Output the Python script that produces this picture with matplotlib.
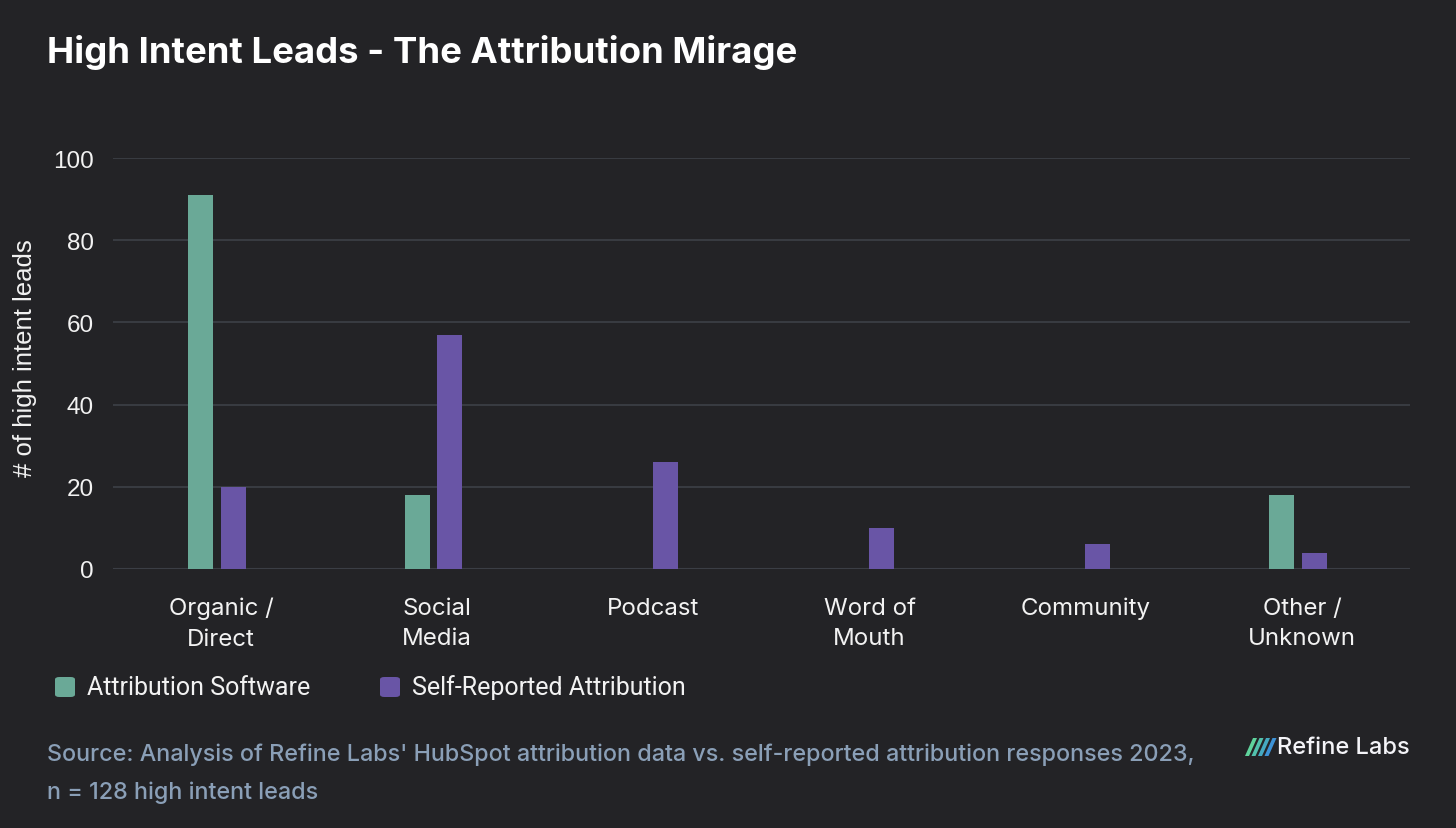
import matplotlib
matplotlib.use("Agg")
import matplotlib.pyplot as plt
import numpy as np
from matplotlib.patches import FancyBboxPatch, Polygon

categories = ["Organic /\nDirect", "Social\nMedia", "Podcast", "Word of\nMouth", "Community", "Other /\nUnknown"]
attribution_software = [91, 18, 0, 0, 0, 18]
self_reported = [20, 57, 26, 10, 6, 4]
series_names = ["Attribution Software", "Self-Reported Attribution"]
yticks = [0, 20, 40, 60, 80, 100]

BG = "#232326"
GREEN = "#6aa997"
PURPLE = "#6955a6"
GRID = "#3b3e45"
TEXT = "#f2f2f2"
SOURCE = "#8a9fb7"

W, H = 1456, 829
fig = plt.figure(figsize=(W / 100, H / 100), dpi=100, facecolor=BG)
ax = fig.add_axes([113 / W, 1 - 570 / H, (1410 - 113) / W, (570 - 159) / H], facecolor=BG)

x = np.arange(len(categories))
bw = 0.1156
ax.bar(x - 0.0934, attribution_software, width=bw, color=GREEN, zorder=3)
ax.bar(x + 0.0564, self_reported, width=bw, color=PURPLE, zorder=3)

ax.set_xlim(-0.5, len(categories) - 0.5)
ax.set_ylim(0, 100)
ax.set_yticks(yticks)
ax.yaxis.grid(True, color=GRID, linewidth=1.3, zorder=0)
ax.set_axisbelow(True)
for s in ax.spines.values():
    s.set_visible(False)
ax.axhline(0, color=GRID, linewidth=1.5, zorder=2)
ax.tick_params(axis="both", length=0, colors=TEXT)
ax.tick_params(axis="y", pad=14)
ax.tick_params(axis="x", pad=20)
ax.set_xticks(x)
ax.set_xticklabels(categories, fontsize=17.3, color=TEXT, family="Inter", linespacing=1.5, va="top")
for lab in ax.get_yticklabels():
    lab.set_fontsize(17.5)
    lab.set_family("Liberation Sans")
    lab.set_color(TEXT)
ax.set_ylabel("# of high intent leads", fontsize=18.5, color=TEXT, family="Liberation Sans")
ax.yaxis.set_label_coords(-(113 - 37) / (1410 - 113), (570 - 358) / 411)

# Title
fig.text(47 / W, 1 - 52 / H, "High Intent Leads - The Attribution Mirage", fontsize=26.3,
         fontweight="bold", color="white", family="Inter", va="center", ha="left")

# Legend
for i, (name, col, xs) in enumerate(zip(series_names, [GREEN, PURPLE], [55, 380])):
    p = FancyBboxPatch((xs / W, 1 - 698 / H), 20 / W, 20 / H,
                       boxstyle="round,pad=0,rounding_size=0.003", transform=fig.transFigure,
                       facecolor=col, edgecolor="none")
    fig.patches.append(p)
    fig.text((xs + 32) / W, 1 - 688 / H, name, fontsize=18, color=TEXT, family="Roboto",
             va="center", ha="left")

# Source
fig.text(47 / W, 1 - 755 / H, "Source: Analysis of Refine Labs' HubSpot attribution data vs. self-reported attribution responses 2023,",
         fontsize=16.8, color=SOURCE, family="Inter", fontweight="medium", va="center", ha="left")
fig.text(47 / W, 1 - 793 / H, "n = 128 high intent leads",
         fontsize=16.8, color=SOURCE, family="Inter", fontweight="medium", va="center", ha="left")

# Logo
stripe_cols = ["#5fd39c", "#52c1ad", "#45a9c2", "#3d92d6"]
for k, c in enumerate(stripe_cols):
    x0 = 1244 + k * 6.5
    pts = [(x0 + 9, 739), (x0 + 13, 739), (x0 + 5, 757), (x0 + 1, 757)]
    poly = Polygon([(px / W, 1 - py / H) for px, py in pts], closed=True,
                   transform=fig.transFigure, facecolor=c, edgecolor="none")
    fig.patches.append(poly)
fig.text(1410 / W, 1 - 748 / H, "Refine Labs", fontsize=17, color="#f4f4f8", family="Inter",
         fontweight="medium", va="center", ha="right")

fig.savefig("out.png", dpi=100, facecolor=BG)
